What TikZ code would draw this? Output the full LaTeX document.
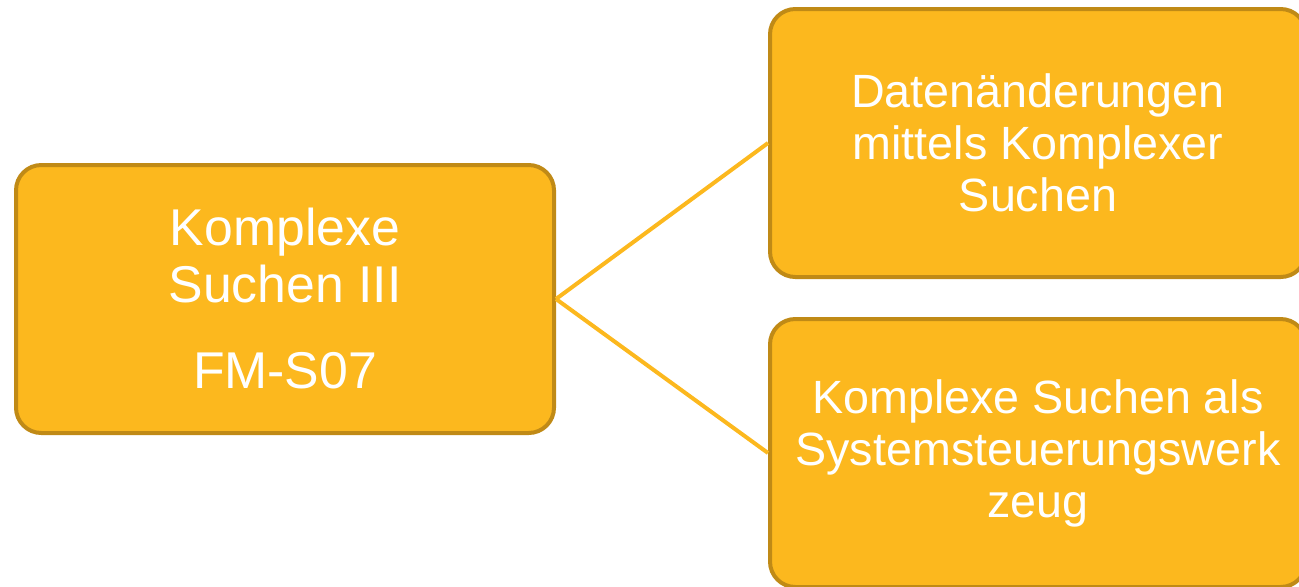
\documentclass[tikz,border=0pt]{standalone}
\usepackage{fontspec}
\setmainfont{Liberation Sans}
\definecolor{boxfill}{HTML}{FCB81E}
\definecolor{boxdraw}{HTML}{C08A16}
\begin{document}
\begin{tikzpicture}[x=0.75pt,y=-0.75pt,
  box/.style={draw=boxdraw,fill=boxfill,line width=3pt,rounded corners=19pt,
    text=white,align=center,inner sep=0pt},
  leftbox/.style={box,minimum width=403.5pt,minimum height=201pt,
    font=\fontsize{38.8}{42.75}\selectfont},
  rightbox/.style={box,minimum width=402pt,minimum height=201pt,
    font=\fontsize{35}{39}\selectfont},
  conn/.style={draw=boxfill,line width=3pt}]
\useasboundingbox (0,0) rectangle (1299,586);
\clip (0,0) rectangle (1299,586);
\node[leftbox] (main) at (285,299) {Komplexe\\Suchen III\\[21.75pt]FM-S07};
\node[rightbox] (top) at (1038,143) {Datenänderungen\\mittels Komplexer\\Suchen};
\node[rightbox] (bot) at (1038,453) {Komplexe Suchen als\\Systemsteuerungswerk\\zeug};
\draw[conn] (main.east) -- (top.west);
\draw[conn] (main.east) -- (bot.west);
\end{tikzpicture}
\end{document}
